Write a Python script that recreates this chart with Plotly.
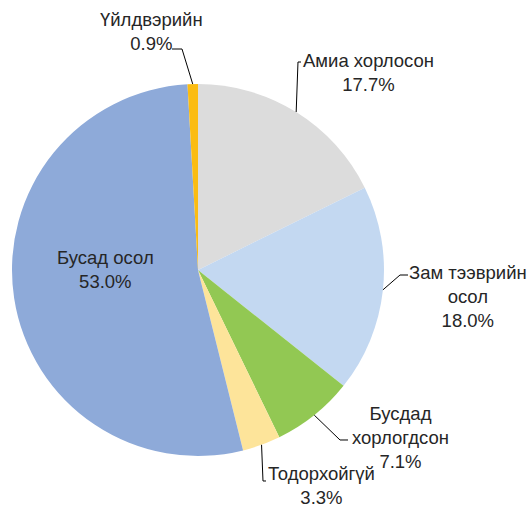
import math
import plotly.graph_objects as go

labels = ["Амиа хорлосон", "Зам тээврийн осол", "Бусдад хорлогдсон", "Тодорхойгүй", "Бусад осол", "Үйлдвэрийн"]
label_text = ["Амиа хорлосон", "Зам тээврийн<br>осол", "Бусдад<br>хорлогдсон", "Тодорхойгүй", "Бусад осол", "Үйлдвэрийн"]
values = [17.7, 18.0, 7.1, 3.3, 53.0, 0.9]
colors = ["#dcdcdc", "#c3d8f1", "#92c853", "#fde49a", "#8eaad9", "#fbbc12"]

W, H = 532, 509
CX, CY, R = 198, 270, 186

# label block centers (px) and leader elbows (px), None = inside label
label_pos = [(368, 72), (468, 296), (400, 437), (321, 485), (105, 269), (151, 31)]
elbows = [
    [(298, 62), (301, 62)],
    [(400, 275), (408, 275)],
    [(340, 440), (348, 440)],
    [(263, 481), (266, 481)],
    None,
    [(182, 49), (172, 49)],
]

def px(x):
    return x / W

def py(y):
    return 1 - y / H

fig = go.Figure(go.Pie(
    labels=labels,
    values=values,
    sort=False,
    direction="clockwise",
    rotation=0,
    marker=dict(colors=colors, line=dict(width=0)),
    textinfo="none",
    hoverinfo="label+percent",
    domain=dict(x=[px(CX - R), px(CX + R)], y=[py(CY + R), py(CY - R)]),
    showlegend=False,
))

total = sum(values)
cum = 0.0
annotations = []
shapes = []
for i, v in enumerate(values):
    mid = (cum + v / 2) / total
    cum += v
    theta = 2 * math.pi * mid
    ex = CX + R * math.sin(theta)
    ey = CY - R * math.cos(theta)
    lx, ly = label_pos[i]
    annotations.append(dict(
        x=px(lx), y=py(ly), xref="paper", yref="paper",
        text=f"{label_text[i]}<br>{v:.1f}%",
        showarrow=False, xanchor="center", yanchor="middle", align="center",
        font=dict(family="Liberation Sans, Arial, sans-serif", size=18.5, color="#262626"),
    ))
    if elbows[i]:
        pts = [(ex, ey)] + elbows[i]
        path = "M " + " L ".join(f"{px(a):.5f},{py(b):.5f}" for a, b in pts)
        shapes.append(dict(type="path", path=path, xref="paper", yref="paper",
                           line=dict(color="#000000", width=1)))

fig.update_layout(
    width=W, height=H,
    margin=dict(l=0, r=0, t=0, b=0),
    paper_bgcolor="white", plot_bgcolor="white",
    annotations=annotations, shapes=shapes,
)

fig.write_html(
    "out.html",
    config={"displayModeBar": False},
    post_script="document.body.style.margin='0';document.body.style.overflow='hidden';",
)
